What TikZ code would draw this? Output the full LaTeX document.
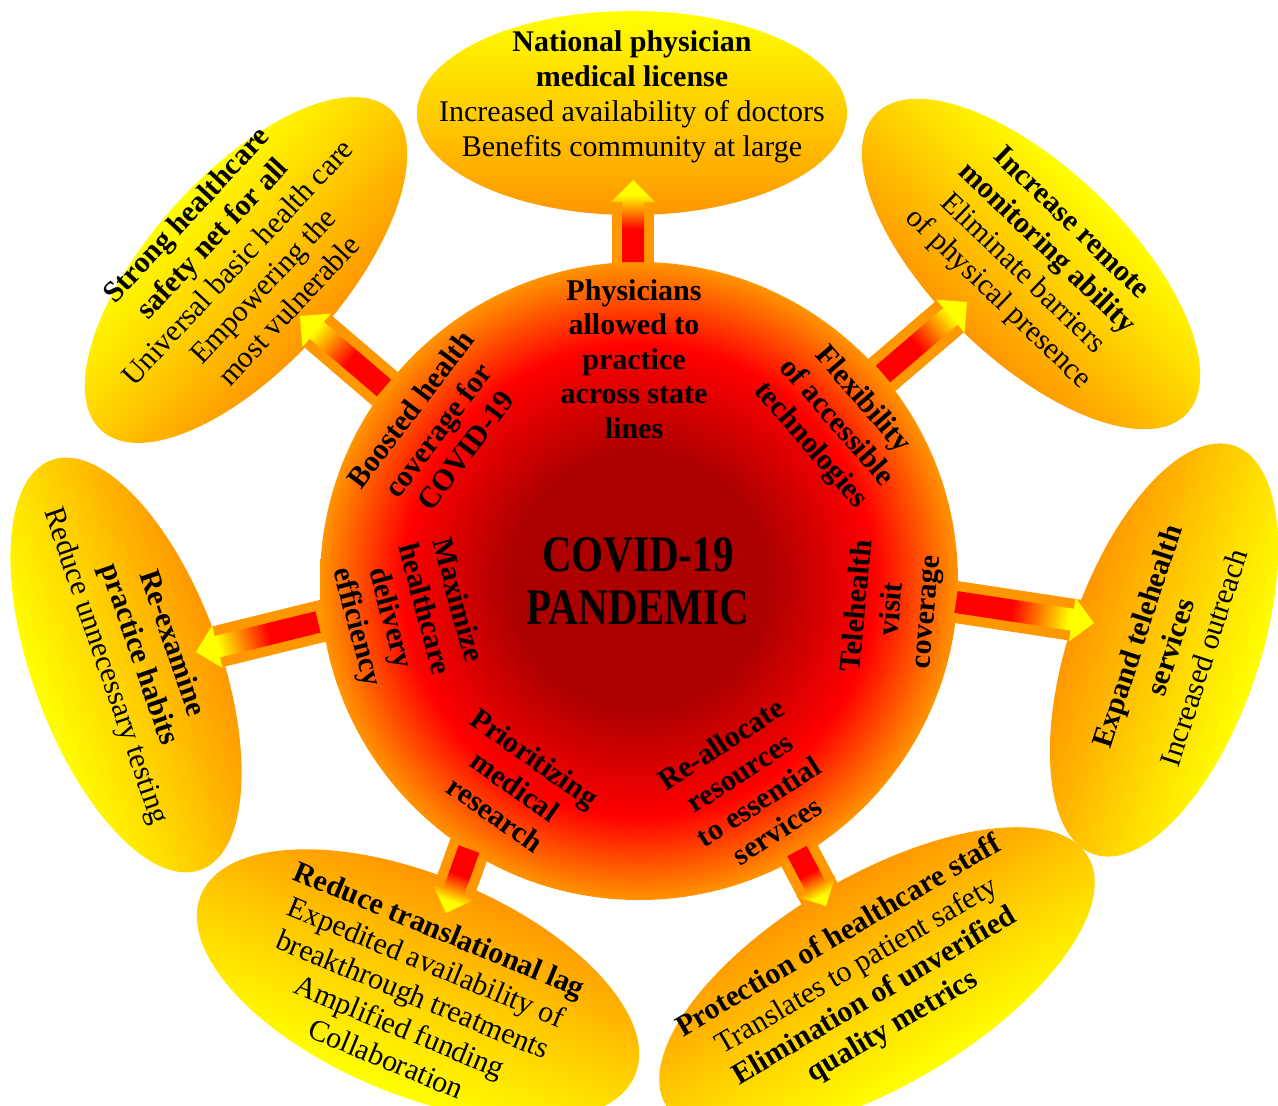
\documentclass[tikz,border=0pt]{standalone}
\usepackage{fontspec}
\setmainfont{Liberation Serif}
\usetikzlibrary{calc}
\definecolor{dkred}{RGB}{172,0,0}
\definecolor{hubred}{RGB}{255,0,0}
\definecolor{hubor}{RGB}{255,148,0}
\definecolor{ellin}{RGB}{255,150,0}
\definecolor{ellmid}{RGB}{255,205,0}
\definecolor{ellout}{RGB}{255,255,0}
\definecolor{bandor}{RGB}{255,152,0}
\definecolor{arred}{RGB}{255,0,0}
\definecolor{aryel}{RGB}{255,255,0}
\pgfdeclareradialshading{hubshade}{\pgfpoint{0bp}{0bp}}{color(0bp)=(dkred); color(10bp)=(dkred); color(18.5bp)=(hubred); color(25bp)=(hubor); color(50bp)=(hubor)}
\pgfdeclareverticalshading{ellshade}{100bp}{color(0bp)=(ellin); color(25bp)=(ellin); color(50bp)=(ellmid); color(75bp)=(ellout); color(100bp)=(ellout)}
\pgfdeclarehorizontalshading{arrowshade}{100bp}{color(0bp)=(arred); color(25bp)=(arred); color(45bp)=(arred); color(66bp)=(aryel); color(100bp)=(aryel)}
\tikzset{
  band/.style={draw=bandor, line width=42pt},
  etxt/.style={align=center, inner sep=0pt, font=\fontsize{30}{35}\selectfont},
  itxt/.style={align=center, inner sep=0pt, font=\bfseries\fontsize{30}{34.5}\selectfont},
}
\newcommand\yellipse[5]{%
  \begin{scope}[transform canvas={shift={(#1,#2)},rotate=#3}]
    \shade[shading=ellshade] (0,0) ellipse [x radius=#4pt, y radius=#5pt];
  \end{scope}}
\newcommand\fatarrow[2]{%
  \path let \p1=(#1), \p2=(#2) in \pgfextra{%
    \pgfmathsetmacro\faang{atan2(\y2-\y1,\x2-\x1)}%
    \pgfmathsetmacro\falen{veclen(\x2-\x1,\y2-\y1)}%
    \xdef\faang{\faang}\xdef\falen{\falen}};
  \pgfmathsetmacro\fahb{\falen-22}%
  \begin{scope}[transform canvas={shift={(#1)},rotate=\faang}]
    \shade[shading=arrowshade] (0,-11) -- (\fahb,-11) -- (\fahb,-22) -- (\falen,0) -- (\fahb,22) -- (\fahb,11) -- (0,11) -- cycle;
  \end{scope}}
\begin{document}
\begin{tikzpicture}[x=1pt,y=-1pt]
\useasboundingbox (0,0) rectangle (1278,1106);
\fill[white] (0,0) rectangle (1278,1106);
\clip (0,0) rectangle (1278,1106);
% arrow end points
\coordinate (b1) at (633,262);  \coordinate (t1) at (633,180);
\coordinate (b2) at (384,388);  \coordinate (t2) at (300,316);
\coordinate (b3) at (883,374);  \coordinate (t3) at (967,302);
\coordinate (b4) at (318,622);  \coordinate (t4) at (196,652);
\coordinate (b5) at (956,602);  \coordinate (t5) at (1094,623);
\coordinate (b6) at (469,849);  \coordinate (t6) at (446,913);
\coordinate (b7) at (797,851);  \coordinate (t7) at (826,906);
% orange bands
\foreach \i in {1,...,7}{
  \draw[band] ($(b\i)!-45pt!(t\i)$) -- ($(t\i)!-40pt!(b\i)$);
}
% ellipses
\yellipse{632}{113}{0}{215}{102}
\yellipse{246}{270}{48}{216}{96}
\yellipse{1031}{264}{-44}{216}{96}
\yellipse{126}{665}{110}{218}{94}
\yellipse{1164}{650}{251}{216}{95}
\yellipse{418}{985}{157.5}{235}{110}
\yellipse{877}{981}{210.5}{245}{105}
% hub
\node[circle, inner sep=0pt, minimum size=638pt, shading=hubshade] (hub) at (639,581) {};
% arrows
\foreach \i in {1,...,7}{ \fatarrow{b\i}{t\i} }
% title
\node[align=center, inner sep=0pt, font=\bfseries\fontsize{41}{53}\selectfont] (title) at (638,581) {\scalebox{1}[1.25]{COVID-19}\\\scalebox{1}[1.25]{PANDEMIC}};
% inner labels
\node[itxt] (i1) at (634,359) {Physicians\\allowed to\\practice\\across state\\lines};
\node[itxt, rotate=53] (i2) at (438,430) {Boosted health\\coverage for\\COVID-19};
\node[itxt, rotate=-49] (i3) at (836,423) {Flexibility\\of accessible\\technologies};
\node[itxt, rotate=-75] (i4) at (406,614) {Maximize\\healthcare\\delivery\\efficiency};
\node[itxt, rotate=85] (i5) at (893,609) {Telehealth\\visit\\coverage};
\node[itxt, rotate=-35] (i6) at (515,786) {Prioritizing\\medical\\research};
\node[itxt, rotate=33] (i7) at (749,787) {Re-allocate\\resources\\to essential\\services};
% ellipse texts
\node[etxt] (e1) at (632,97) {\textbf{National physician}\\\textbf{medical license}\\Increased availability of doctors\\Benefits community at large};
\node[etxt, rotate=47] (e2) at (237,262) {\textbf{Strong healthcare}\\\textbf{safety net for all}\\Universal basic health care\\Empowering the\\most vulnerable};
\node[etxt, rotate=-44] (e3) at (1034,262) {\textbf{Increase remote}\\\textbf{monitoring ability}\\Eliminate barriers\\of physical presence};
\node[etxt, rotate=-71] (e4) at (138,655) {\textbf{Re-examine}\\\textbf{practice habits}\\Reduce unnecessary testing};
\node[etxt, rotate=72] (e5) at (1170,647) {\textbf{Expand telehealth}\\\textbf{services}\\Increased outreach};
\node[etxt, rotate=-22.5] (e6) at (413,994) {\textbf{Reduce translational lag}\\Expedited availability of\\breakthrough treatments\\Amplified funding\\Collaboration};
\node[etxt, rotate=30.5] (e7) at (866,982) {\textbf{Protection of healthcare staff}\\Translates to patient safety\\\textbf{Elimination of unverified}\\\textbf{quality metrics}};
\end{tikzpicture}
\end{document}
